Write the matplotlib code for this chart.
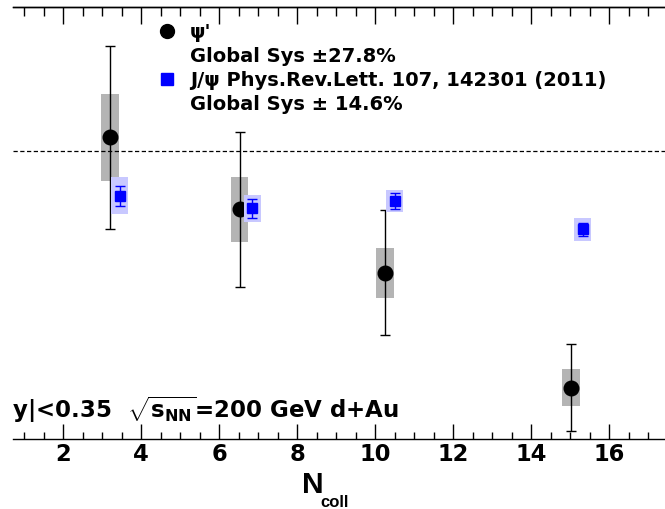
"""psi' and J/psi R_dAu vs N_coll (PHENIX style)."""

import matplotlib

matplotlib.use("Agg")
import matplotlib.pyplot as plt
from matplotlib.lines import Line2D
from matplotlib.ticker import MultipleLocator, NullLocator

# psi' (black circles)
psi2s_ncoll = [3.2, 6.53, 10.25, 15.02]
psi2s_val = [1.047, 0.797, 0.578, 0.179]
psi2s_stat = [0.318, 0.270, 0.218, 0.151]
psi2s_sys = [0.152, 0.112, 0.087, 0.065]

# J/psi, PRL 107, 142301 (blue squares, shifted right)
jpsi_ncoll = [3.45, 6.85, 10.50, 15.32]
jpsi_val = [0.845, 0.801, 0.826, 0.728]
jpsi_stat = [0.035, 0.033, 0.029, 0.022]
jpsi_sys = [0.065, 0.047, 0.038, 0.039]

xticks = [2, 4, 6, 8, 10, 12, 14, 16]

W, H = 665, 509


def setup_matplotlib() -> None:
    plt.rcParams["font.family"] = ["DejaVu Sans"]
    plt.rcParams["font.weight"] = "bold"
    plt.rcParams["mathtext.fontset"] = "custom"
    plt.rcParams["mathtext.rm"] = "DejaVu Sans:bold"
    plt.rcParams["mathtext.it"] = "DejaVu Sans:bold"
    plt.rcParams["mathtext.bf"] = "DejaVu Sans:bold"
    plt.rcParams["mathtext.sf"] = "DejaVu Sans:bold"


def main() -> None:
    setup_matplotlib()
    fig = plt.figure(figsize=(W / 100, H / 100), dpi=100)

    # frame runs off the right edge of the picture, no side axes shown
    left_px, bottom_px, top_px = 13.3, 439.3, 6.7
    x_lo, x_hi = 0.72, 18.3
    px_per_unit = 39.0
    ax = fig.add_axes([
        left_px / W,
        (H - bottom_px) / H,
        (x_hi - x_lo) * px_per_unit / W,
        (bottom_px - top_px) / H,
    ])
    ax.set_xlim(x_lo, x_hi)
    ax.set_ylim(0, 1.5)
    ax.spines[["left", "right"]].set_visible(False)
    for side in ("top", "bottom"):
        ax.spines[side].set_linewidth(1.0)
    ax.yaxis.set_major_locator(NullLocator())
    ax.set_xticks(xticks)
    ax.xaxis.set_minor_locator(MultipleLocator(0.5))
    ax.tick_params(axis="x", which="both", direction="in", top=False, bottom=True,
                   width=1.0, labelsize=16.3, pad=2.5)
    ax.tick_params(axis="x", which="major", length=10.5)
    ax.tick_params(axis="x", which="minor", length=5.2)

    # top axis ticks are a bit longer than the bottom ones
    top = ax.secondary_xaxis("top")
    top.set_xticks(xticks)
    top.xaxis.set_minor_locator(MultipleLocator(0.5))
    top.spines["top"].set_linewidth(1.0)
    top.tick_params(axis="x", which="both", direction="in", width=1.0, labeltop=False)
    top.tick_params(axis="x", which="major", length=12.5)
    top.tick_params(axis="x", which="minor", length=6.2)

    ax.axhline(1.0, color="black", lw=0.9, ls=(0, (3.4, 2.0)), zorder=2)

    # psi' systematics, points
    ax.bar(psi2s_ncoll, [2 * s for s in psi2s_sys],
           bottom=[v - s for v, s in zip(psi2s_val, psi2s_sys)],
           width=0.44, color="#b4b4b4", lw=0, zorder=1)
    ax.errorbar(psi2s_ncoll, psi2s_val, yerr=psi2s_stat, fmt="o", color="black",
                ms=10.5, elinewidth=1.0, capsize=3.4, capthick=1.0, zorder=3)

    # J/psi systematics, points
    ax.bar(jpsi_ncoll, [2 * s for s in jpsi_sys],
           bottom=[v - s for v, s in zip(jpsi_val, jpsi_sys)],
           width=0.44, color="#c8c8ff", lw=0, zorder=4)
    ax.errorbar(jpsi_ncoll, jpsi_val, yerr=jpsi_stat, fmt="s", color="#0000ff",
                ms=7.0, elinewidth=1.0, capsize=3.6, capthick=1.0, zorder=5)

    blank = Line2D([], [], ls="none", marker="none")
    handles = [
        Line2D([], [], ls="none", marker="o", color="black", ms=10),
        blank,
        Line2D([], [], ls="none", marker="s", color="#0000ff", ms=9),
        blank,
    ]
    labels = [
        "ψ'",
        "Global Sys ±27.8%",
        "J/ψ Phys.Rev.Lett. 107, 142301 (2011)",
        "Global Sys ± 14.6%",
    ]
    ax.legend(handles, labels, loc="upper left",
              bbox_to_anchor=(156.8 / W, 1 - 22.5 / H), bbox_transform=fig.transFigure,
              frameon=False, fontsize=14, handlelength=1.0, handletextpad=0.71,
              borderpad=0, borderaxespad=0, labelspacing=0.27)

    ax.text(0.47, 0.073, "|y|<0.35  $\\sqrt{s_{NN}}$=200 GeV d+Au", fontsize=16.5,
            fontweight="bold", ha="left", va="baseline", clip_on=True)

    # axis title N_coll, drawn as two pieces to get the small subscript
    fig.text(302 / W, 1 - 493.3 / H, "N", fontsize=21.5, fontweight="bold",
             family="Liberation Sans", ha="left", va="baseline")
    fig.text(320.5 / W, 1 - 506.7 / H, "coll", fontsize=12, fontweight="bold",
             family="Liberation Sans", ha="left", va="baseline")

    fig.savefig("out.png", dpi=100)
    plt.close(fig)


if __name__ == "__main__":
    main()
